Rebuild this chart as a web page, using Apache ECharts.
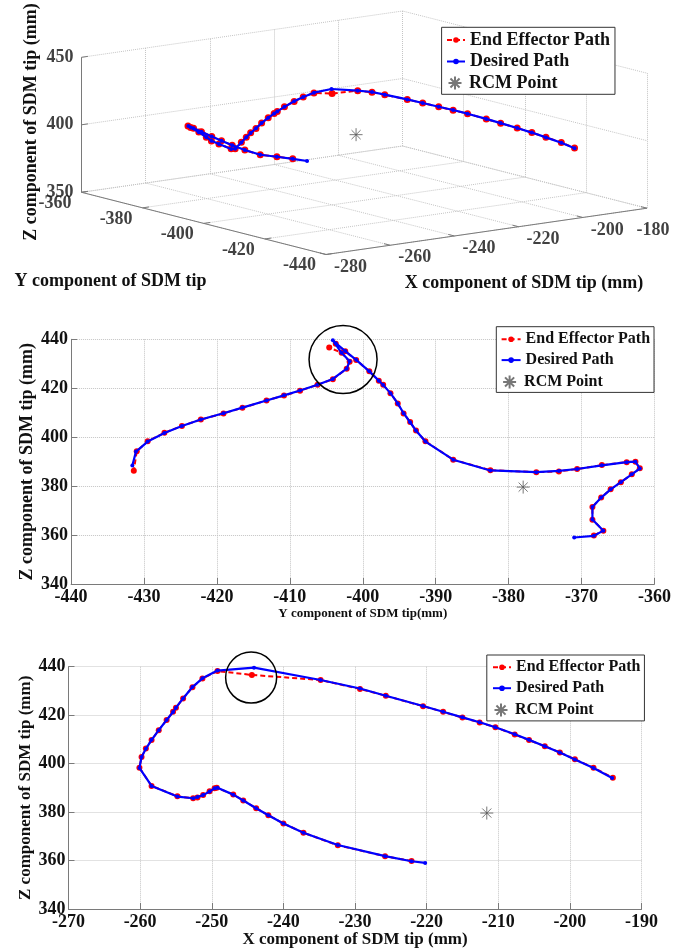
<!DOCTYPE html>
<html><head><meta charset="utf-8">
<script src="https://cdn.jsdelivr.net/npm/echarts@6/dist/echarts.min.js"></script>
<style>html,body{margin:0;padding:0;background:#fff}#c{width:674px;height:952px}</style>
</head><body><div id="c"></div>
<script>
// ---------- data ----------
const desX = [-220.2,-222.1,-225.8,-232.4,-237.2,-240.0,-242.1,-243.8,-245.6,-247.0,-249.2,-249.6,-250.3,-251.2,-252.0,-252.6,-254.8,-258.4,-260.1,-259.8,-259.2,-258.4,-257.4,-256.3,-255.4,-255.0,-254.0,-252.7,-251.3,-249.2,-244.1,-234.8,-229.3,-225.7,-220.5,-217.7,-215.0,-212.6,-210.4,-207.7,-205.7,-203.5,-201.4,-199.3,-196.7,-194.1,null];
const desY = [-371.0,-368.3,-367.0,-368.5,-368.5,-367.3,-366.0,-364.6,-363.1,-362.0,-362.6,-363.8,-367.2,-370.6,-373.1,-376.2,-382.5,-387.6,-391.4,-392.7,-393.5,-394.4,-395.2,-396.2,-397.2,-397.8,-399.1,-400.9,-402.4,-403.7,-404.1,-402.9,-401.8,-402.2,-404.1,-406.2,-408.6,-410.8,-413.2,-416.5,-419.1,-422.2,-424.8,-427.2,-429.5,-431.1,-431.6];
const desZ = [359.0,359.7,361.8,366.4,371.5,375.3,378.7,381.6,384.8,387.2,390.0,389.8,388.5,387.0,386.2,385.7,386.4,390.8,398.2,402.7,406.1,409.8,413.8,418.0,421.3,423.1,426.9,431.6,435.2,438.4,439.6,434.5,431.0,428.0,423.8,421.4,419.1,417.1,415.0,412.1,409.8,407.2,404.6,401.7,398.2,394.1,388.4];

const effX = [null,-222.1,-225.8,-232.4,-237.2,-240.0,-242.1,-243.8,-245.6,-247.0,-249.3,-249.6,-250.3,-251.2,-252.0,-252.6,-254.8,-258.4,-260.1,-259.8,-259.2,-258.4,-257.4,-256.3,-255.4,-255.0,-254.0,-252.7,-251.3,-249.2,-244.4,-234.8,-229.3,-225.7,-220.5,-217.7,-215.0,-212.6,-210.4,-207.7,-205.7,-203.5,-201.4,-199.3,-196.7,-194.0,null];
const effY = [null,-368.3,-367.0,-368.5,-368.5,-367.3,-366.0,-364.6,-363.1,-362.0,-362.6,-363.8,-367.2,-370.6,-373.1,-376.2,-382.5,-387.6,-391.4,-392.7,-393.5,-394.4,-395.2,-396.2,-397.2,-397.8,-399.1,-400.9,-402.4,-403.7,-404.6,-402.9,-401.8,-402.2,-404.1,-406.2,-408.6,-410.8,-413.2,-416.5,-419.1,-422.2,-424.8,-427.2,-429.5,-431.0,-431.4];
const effZ = [null,359.8,361.8,366.3,371.5,375.3,378.7,381.6,384.8,387.3,390.0,389.8,388.6,387.0,386.0,385.7,386.5,390.8,398.3,402.7,406.2,409.7,413.8,418.0,421.4,423.1,426.9,431.5,435.1,438.2,436.6,434.5,430.8,428.0,423.7,421.4,419.0,417.0,415.0,412.0,409.7,407.2,404.6,401.8,398.3,394.2,386.3];

const rcmPoint = [-211.6, -378.0, 379.6];      // X, Y, Z
const circleYZ = [-402.7, 431.7];              // annotation centre, middle panel
const circleXZ = [-244.5, 435.5];              // annotation centre, bottom panel

const xTicks3D = [-280,-260,-240,-220,-200,-180];
const yTicks3D = [-360,-380,-400,-420,-440];
const zTicks3D = [350,400,450];

const seriesNames = ['End Effector Path','Desired Path','RCM Point'];

// ---------- styling / layout ----------
const FONT = 'Liberation Serif';
const TXT = '#111';
const RED = '#ff0000', BLUE = '#0000ff';
const GRIDC = '#c4c4c4', AXC = '#7a7a7a';
const STAR = 'path://M0,-10L0,10M-10,0L10,0M-7,-7L7,7M-7,7L7,-7';

// 3D box projection (screen layout of the MATLAB-like view)
const BOX = {L:[81.5,192.3], ex:[321,-46.3], ey:[244.5,62.2], ez:[0,-135]};
const X3 = [xTicks3D[0], xTicks3D[xTicks3D.length-1]];
const Y3 = [yTicks3D[0], yTicks3D[yTicks3D.length-1]];
const Z3 = [zTicks3D[0], zTicks3D[zTicks3D.length-1]];
function proj(x,y,z){
  const u=(x-X3[0])/(X3[1]-X3[0]), v=(y-Y3[0])/(Y3[1]-Y3[0]), w=(z-Z3[0])/(Z3[1]-Z3[0]);
  return [BOX.L[0]+u*BOX.ex[0]+v*BOX.ey[0]+w*BOX.ez[0],
          BOX.L[1]+u*BOX.ex[1]+v*BOX.ey[1]+w*BOX.ez[1]];
}
const ok = v => v!==null && v!==undefined;
function pts2(a,b){ return a.map((v,i)=>[v,b[i]]).filter(p=>ok(p[0])&&ok(p[1])); }
function pts3(a,b,c){ const r=[]; a.forEach((v,i)=>{ if(ok(v)&&ok(b[i])&&ok(c[i])) r.push(proj(v,b[i],c[i])); }); return r; }

// 3D grid lines and axes
const grid3 = [], axes3 = [];
const seg = (arr,a,b)=>arr.push({coords:[proj(...a),proj(...b)]});
xTicks3D.forEach(x=>{ seg(grid3,[x,Y3[0],Z3[0]],[x,Y3[1],Z3[0]]); seg(grid3,[x,Y3[0],Z3[0]],[x,Y3[0],Z3[1]]); });
yTicks3D.forEach(y=>{ seg(grid3,[X3[0],y,Z3[0]],[X3[1],y,Z3[0]]); seg(grid3,[X3[1],y,Z3[0]],[X3[1],y,Z3[1]]); });
zTicks3D.forEach(z=>{ seg(grid3,[X3[0],Y3[0],z],[X3[1],Y3[0],z]); seg(grid3,[X3[1],Y3[0],z],[X3[1],Y3[1],z]); });
seg(axes3,[X3[0],Y3[0],Z3[0]],[X3[0],Y3[0],Z3[1]]);
seg(axes3,[X3[0],Y3[0],Z3[0]],[X3[0],Y3[1],Z3[0]]);
seg(axes3,[X3[0],Y3[1],Z3[0]],[X3[1],Y3[1],Z3[0]]);
const tx = (X3[1]-X3[0])*0.02, ty = (Y3[1]-Y3[0])*0.025;
xTicks3D.forEach(x=>seg(axes3,[x,Y3[1],Z3[0]],[x,Y3[1]-ty,Z3[0]]));
yTicks3D.forEach(y=>seg(axes3,[X3[0],y,Z3[0]],[X3[0]+tx,y,Z3[0]]));
zTicks3D.forEach(z=>seg(axes3,[X3[0],Y3[0],z],[X3[0]+tx,Y3[0],z]));

const labels3 = [];
yTicks3D.forEach(y=>labels3.push({value:proj(X3[0],y,Z3[0]), name:String(y), label:{offset:[-26.5,11.2]}}));
xTicks3D.forEach(x=>{ const p=proj(x,Y3[1],Z3[0]); const dx=Math.min(24.5, 653-p[0]);
  labels3.push({value:p, name:String(x), label:{offset:[dx,12.5+(24.5-dx)*0.5]}}); });
zTicks3D.forEach(z=>labels3.push({value:proj(X3[0],Y3[0],z), name:String(z), label:{align:'right', offset:[-8,0]}}));

// ---------- chart ----------
const chart = echarts.init(document.getElementById('c'));

function axis2D(grid,min,max,interval,name,nameGap,nameFs,isY){
  return {gridIndex:grid,type:'value',min,max,interval,name,nameLocation:'middle',nameGap,nameRotate:isY?90:0,nameMoveOverlap:false,
    nameTextStyle:{fontFamily:FONT,fontWeight:'bold',fontSize:nameFs,color:TXT},
    axisLine:{show:true,onZero:false,lineStyle:{color:AXC,width:1}},
    axisTick:{show:true,inside:true,length:6,lineStyle:{color:AXC,width:1}},
    axisLabel:{fontFamily:FONT,fontWeight:'bold',fontSize:18,color:TXT,margin:isY?3:4},
    splitLine:{show:true,lineStyle:{type:'dotted',color:GRIDC,width:1}},
    splitArea:{show:false}, minorTick:{show:false}};
}
// legend: box with the two path entries, plus an overlaid entry for the RCM marker
function legendPair(left,top,fs,lh,pitch,pad,iw){
  const gap = pitch-lh;
  const txt = {fontFamily:FONT,fontWeight:'bold',fontSize:fs,color:TXT,lineHeight:lh};
  return [
    {left,top,orient:'vertical',data:seriesNames.slice(0,2),backgroundColor:'#fff',borderColor:'#333',borderWidth:1,borderRadius:0,
      padding:[pad[0],pad[1],pad[2]+pitch,pad[3]],itemGap:gap,itemWidth:iw,itemHeight:7,selectedMode:false,textStyle:txt,z:10},
    {left,top:top+pad[0]+2*pitch,orient:'vertical',data:[seriesNames[2]],backgroundColor:'transparent',borderWidth:0,
      padding:[0,0,0,pad[3]],itemWidth:iw,itemHeight:Math.min(lh,13),selectedMode:false,textStyle:txt,z:11}
  ];
}
function redLine(xi,data,sz){ return {type:'line',name:seriesNames[0],xAxisIndex:xi,yAxisIndex:xi,data,symbol:'circle',symbolSize:sz,showSymbol:true,
  lineStyle:{color:RED,width:2,type:[5,3]},itemStyle:{color:RED},z:3,animation:false,silent:true}; }
function blueLine(xi,data){ return {type:'line',name:seriesNames[1],xAxisIndex:xi,yAxisIndex:xi,data,symbol:'circle',symbolSize:4,showSymbol:true,
  lineStyle:{color:BLUE,width:2.2},itemStyle:{color:BLUE},z:4,animation:false,silent:true}; }
function rcm(xi,pt){ return {type:'scatter',name:seriesNames[2],xAxisIndex:xi,yAxisIndex:xi,data:[pt],symbol:STAR,symbolSize:13,
  itemStyle:{color:'none',borderColor:'#555',borderWidth:1},z:5,silent:true}; }
function ring(xi,pt,size){ return {type:'scatter',name:'annotation',xAxisIndex:xi,yAxisIndex:xi,data:[pt],symbol:'circle',symbolSize:size,
  itemStyle:{color:'none',borderColor:'#000',borderWidth:1.5,opacity:1},z:6,silent:true}; }

const titleFont = fs=>'bold '+fs+'px "'+FONT+'"';

chart.setOption({
  animation:false,
  textStyle:{fontFamily:FONT},
  grid:[
    {left:0,top:0,width:674,height:300,outerBoundsMode:'none'},
    {left:71.1,top:339.3,width:583.3,height:244.7,outerBoundsMode:'none'},
    {left:68.5,top:666.7,width:573,height:242.3,outerBoundsMode:'none'}
  ],
  xAxis:[
    {gridIndex:0,type:'value',min:0,max:674,show:false},
    axis2D(1,-440,-360,10,'Y component of SDM tip(mm)',22.8,13,false),
    axis2D(2,-270,-190,10,'X component of SDM tip (mm)',22.5,17,false)
  ],
  yAxis:[
    {gridIndex:0,type:'value',min:0,max:300,inverse:true,show:false},
    axis2D(1,340,440,20,'Z component of SDM tip (mm)',34.5,18,true),
    axis2D(2,340,440,20,'Z component of SDM tip (mm)',34.5,17,true)
  ],
  legend:[].concat(
    legendPair(441.6,27.3,18,18,21.5,[3.7,5,2.3,4.4],18),
    legendPair(496.3,326.7,16,16,20.8,[4.6,4,3.5,4.3],19),
    legendPair(486.8,655,16,16,20.9,[4.3,4,3.8,5.2],18)
  ),
  graphic:[
    {type:'text',x:31,y:122,rotation:Math.PI/2,silent:true,style:{text:'Z component of SDM tip (mm)',font:titleFont(18),fill:TXT,align:'center',verticalAlign:'middle'}},
    {type:'text',x:110.5,y:281,silent:true,style:{text:'Y component of SDM tip',font:titleFont(18),fill:TXT,align:'center',verticalAlign:'middle'}},
    {type:'text',x:524,y:283,silent:true,style:{text:'X component of SDM tip (mm)',font:titleFont(18),fill:TXT,align:'center',verticalAlign:'middle'}}
  ],
  series:[
    // 3D panel (projected)
    {type:'lines',coordinateSystem:'cartesian2d',xAxisIndex:0,yAxisIndex:0,data:grid3,silent:true,z:1,
      lineStyle:{color:GRIDC,type:'dotted',width:1,opacity:1,curveness:0}},
    {type:'lines',coordinateSystem:'cartesian2d',xAxisIndex:0,yAxisIndex:0,data:axes3,silent:true,z:2,
      lineStyle:{color:AXC,type:'solid',width:1,opacity:1,curveness:0}},
    {type:'scatter',xAxisIndex:0,yAxisIndex:0,data:labels3,symbolSize:0,silent:true,z:2,
      label:{show:true,position:'inside',formatter:p=>p.name,fontFamily:FONT,fontWeight:'bold',fontSize:18,color:TXT,align:'center',verticalAlign:'middle'}},
    redLine(0,pts3(effX,effY,effZ),7),
    blueLine(0,pts3(desX,desY,desZ)),
    rcm(0,proj(...rcmPoint)),
    // middle panel: Y vs Z
    redLine(1,pts2(effY,effZ),6),
    blueLine(1,pts2(desY,desZ)),
    rcm(1,[rcmPoint[1],rcmPoint[2]]),
    ring(1,circleYZ,68),
    // bottom panel: X vs Z
    redLine(2,pts2(effX,effZ),6),
    blueLine(2,pts2(desX,desZ)),
    rcm(2,[rcmPoint[0],rcmPoint[2]]),
    ring(2,circleXZ,51)
  ]
});
</script></body></html>
